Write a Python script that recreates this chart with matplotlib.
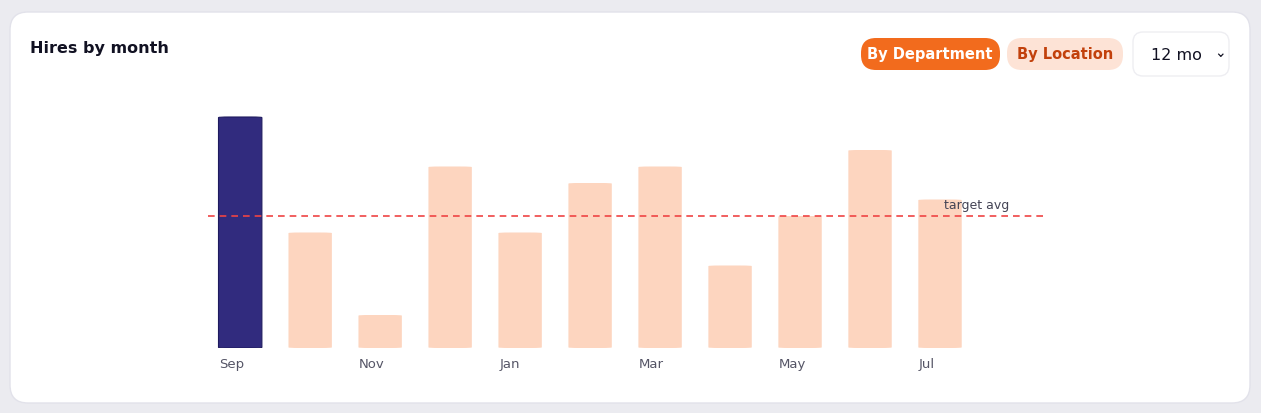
import matplotlib
matplotlib.use("Agg")
import matplotlib.pyplot as plt
from matplotlib.patches import FancyBboxPatch

months = ["Sep","Oct","Nov","Dec","Jan","Feb","Mar","Apr","May","Jun","Jul"]
hires = [14, 7, 2, 11, 7, 10, 11, 5, 8, 12, 9]
labels_shown = ["Sep","Nov","Jan","Mar","May","Jul"]
target = 8

W, H = 1261, 413
fig = plt.figure(figsize=(W/100, H/100), dpi=100)
fig.patch.set_facecolor("#ebebf0")

def fx(x): return x / W
def fy(y): return 1 - y / H

bg = fig.add_axes([0, 0, 1, 1]); bg.set_xlim(0, W); bg.set_ylim(H, 0); bg.axis("off")
bg.add_patch(FancyBboxPatch((10, 12), 1240, 391, boxstyle="round,pad=0,rounding_size=18",
                            fc="white", ec="#e2e2ea", lw=1))
bg.text(30, 49, "Hires by month", fontsize=11.5, fontweight="bold", color="#111122", va="center")
bg.add_patch(FancyBboxPatch((861, 38), 139, 32, boxstyle="round,pad=0,rounding_size=15", fc="#f26b1d", ec="none"))
bg.text(930, 54, "By Department", fontsize=10.5, fontweight="bold", color="white", ha="center", va="center")
bg.add_patch(FancyBboxPatch((1007, 38), 116, 32, boxstyle="round,pad=0,rounding_size=15", fc="#fde3d6", ec="none"))
bg.text(1065, 54, "By Location", fontsize=10.5, fontweight="bold", color="#c2410c", ha="center", va="center")
bg.add_patch(FancyBboxPatch((1133, 32), 96, 44, boxstyle="round,pad=0,rounding_size=10", fc="white", ec="#eeeef2", lw=1))
bg.text(1151, 55, "12 mo", fontsize=11.5, color="#111122", va="center")
bg.text(1220, 53, "⌄", fontsize=10, color="#111122", ha="center", va="center")

left, right, top, bot = 208, 1045, 348 - 15*16.5, 348
ax = fig.add_axes([fx(left), fy(bot), fx(right-left), (bot-top)/H])
ax.set_xlim(-0.46, 11.5); ax.set_ylim(0, 15); ax.axis("off")
ax.patch.set_alpha(0)
for i, (m, v) in enumerate(zip(months, hires)):
    fc = "#312b7e" if i == 0 else "#fdd5bf"
    ax.add_patch(FancyBboxPatch((i - 0.31, 0), 0.62, v, boxstyle="round,pad=0,rounding_size=0.15",
                                mutation_aspect=16.5/70*0+1/ (70/16.5), fc=fc, ec="#1e1a5e" if i == 0 else "none", lw=0.8))
    if m in labels_shown:
        ax.text(i - 0.3, -1.0, m, fontsize=9.5, color="#555566", ha="left", va="center")
ax.axhline(target, color="#ef4444", ls=(0, (4, 3)), lw=1.2)
ax.text(10.05, target + 0.65, "target avg", fontsize=9, color="#444455", ha="left", va="center")
fig.savefig("out.png", dpi=100, facecolor=fig.get_facecolor())
